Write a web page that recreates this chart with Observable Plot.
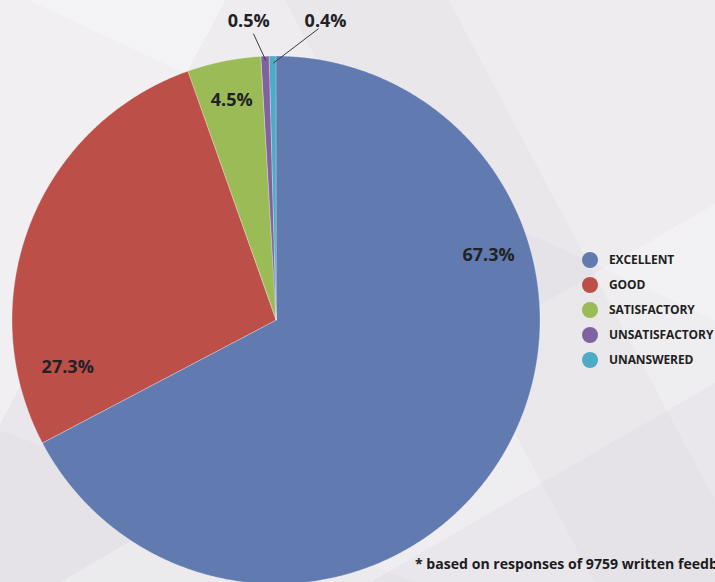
<!DOCTYPE html>
<html><head><meta charset="utf-8">
<script src="https://cdn.jsdelivr.net/npm/d3@7"></script>
<script src="https://cdn.jsdelivr.net/npm/@observablehq/plot@0.6"></script>
<style>
html,body{margin:0;padding:0;}
body{width:715px;height:582px;overflow:hidden;position:relative;font-family:"Open Sans",sans-serif;
  background-color:#e9e7eb;
  background-image:
    linear-gradient(118deg, rgba(255,255,255,.35) 0 22%, transparent 22% 100%),
    linear-gradient(62deg, transparent 0 58%, rgba(215,213,218,.22) 58% 74%, transparent 74%),
    linear-gradient(205deg, rgba(255,255,255,.22) 0 35%, transparent 35%),
    linear-gradient(150deg, transparent 0 62%, rgba(255,255,255,.25) 62% 80%, transparent 80%),
    linear-gradient(20deg, rgba(215,213,218,.22) 0 18%, transparent 18%);
}
#chart{position:absolute;left:0;top:0;}
#legend{position:absolute;left:582px;top:247px;}
.row{display:flex;align-items:center;height:25px;}
.sw{width:16px;height:16px;border-radius:50%;margin-right:11px;flex:none;}
.lab{font-size:12px;font-weight:700;color:#1f1f22;white-space:nowrap;letter-spacing:-0.1px;}
#note{position:absolute;left:415px;top:554px;font-size:14.1px;font-weight:700;color:#1c1c1f;white-space:nowrap;}
</style></head><body>
<div id="chart"></div>
<div id="legend"></div>
<div id="note">* based on responses of 9759 written feedback</div>
<script>
// ---- data ----
const categories = ["EXCELLENT", "GOOD", "SATISFACTORY", "UNSATISFACTORY", "UNANSWERED"];
const percents = [67.3, 27.3, 4.5, 0.5, 0.4];
const labelTexts = ["67.3%", "27.3%", "4.5%", "0.5%", "0.4%"];
const colors = ["#617bb0", "#bd4f49", "#9bbb57", "#8062a1", "#4eabc5"];

// ---- layout (label placement: angle in degrees clockwise from top, radius as fraction) ----
const labelAngle = [73, 257.5, 348.5, 354.7, 9.3];
const labelRadius = [0.84, 0.81, 0.85, 1.14, 1.15];
const leaderOuterAngle = [null, null, null, 355.4, 8.2];
const leaderOuterRadius = [null, null, null, 1.09, 1.117];
const leaderInnerRadius = [null, null, null, 0.985, 0.975];

const W = 715, H = 582, R = 264, CX = 276, CY = 320;

const data = categories.map((c, i) => ({cat: c, value: percents[i]}));
const arcs = d3.pie().sort(null).value(d => d.value)(data);

const pts = [];
arcs.forEach(a => {
  const n = Math.max(2, Math.ceil((a.endAngle - a.startAngle) / 0.005));
  for (let k = 0; k <= n; k++) {
    const t = a.startAngle + (a.endAngle - a.startAngle) * k / n;
    pts.push({cat: a.data.cat, x: Math.sin(t), y: Math.cos(t), x0: 0, y0: 0});
  }
});

const rad = d => d * Math.PI / 180;
const labels = labelTexts.map((t, i) => ({
  text: t,
  x: labelRadius[i] * Math.sin(rad(labelAngle[i])),
  y: labelRadius[i] * Math.cos(rad(labelAngle[i]))
}));

const leaders = [];
arcs.forEach((a, i) => {
  if (leaderOuterAngle[i] == null) return;
  const mid = (a.startAngle + a.endAngle) / 2;
  leaders.push({
    x1: leaderInnerRadius[i] * Math.sin(mid), y1: leaderInnerRadius[i] * Math.cos(mid),
    x2: leaderOuterRadius[i] * Math.sin(rad(leaderOuterAngle[i])), y2: leaderOuterRadius[i] * Math.cos(rad(leaderOuterAngle[i]))
  });
});

const chart = Plot.plot({
  width: W, height: H, margin: 0,
  x: {domain: [-CX / R, (W - CX) / R], axis: null},
  y: {domain: [(CY - H) / R, CY / R], axis: null},
  color: {domain: categories, range: colors},
  style: {background: "transparent", overflow: "visible"},
  marks: [
    Plot.area(pts, {x1: "x", y1: "y", x2: "x0", y2: "y0", z: "cat", fill: "cat", curve: "linear",
      stroke: "rgba(255,255,255,0.35)", strokeWidth: 0.8}),
    Plot.link(leaders, {x1: "x1", y1: "y1", x2: "x2", y2: "y2", stroke: "#3a3a40", strokeWidth: 1}),
    Plot.text(labels, {x: "x", y: "y", text: "text", fontSize: 18, fontWeight: 700,
      fill: "#222226", fontFamily: "Open Sans"})
  ]
});
document.getElementById("chart").appendChild(chart);

const legend = document.getElementById("legend");
categories.forEach((c, i) => {
  const row = document.createElement("div");
  row.className = "row";
  row.innerHTML = `<span class="sw" style="background:${colors[i]}"></span><span class="lab">${c}</span>`;
  legend.appendChild(row);
});
</script>
</body></html>
